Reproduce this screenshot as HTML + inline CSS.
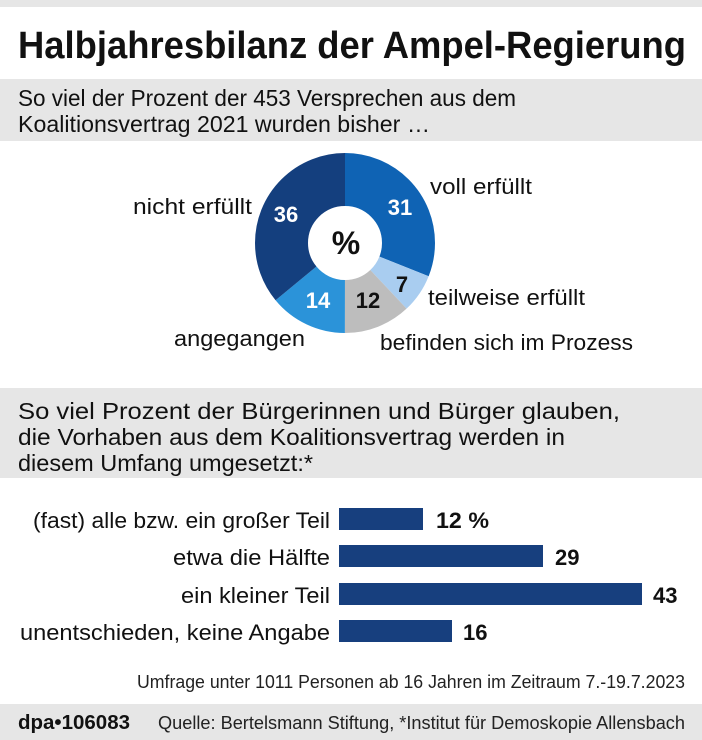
<!DOCTYPE html>
<html><head><meta charset="utf-8"><style>
html,body{margin:0;padding:0;background:#fff;}
svg{display:block;font-family:"Liberation Sans",sans-serif;}
</style></head><body>
<svg width="702" height="740" viewBox="0 0 702 740" xmlns="http://www.w3.org/2000/svg">
<rect x="0" y="0" width="702" height="7" fill="#e6e6e6"/>
<text x="18" y="58" font-size="38" font-weight="bold" fill="#111" textLength="668" lengthAdjust="spacingAndGlyphs">Halbjahresbilanz der Ampel-Regierung</text>
<rect x="0" y="79" width="702" height="62" fill="#e6e6e6"/>
<text x="18" y="106" font-size="23" fill="#111" textLength="498" lengthAdjust="spacingAndGlyphs">So viel der Prozent der 453 Versprechen aus dem</text>
<text x="18" y="132" font-size="23" fill="#111" textLength="412" lengthAdjust="spacingAndGlyphs">Koalitionsvertrag 2021 wurden bisher …</text>

<g transform="translate(345,243) rotate(-90)" fill="none" stroke-width="53">
<circle r="63.5" stroke="#0f63b4" stroke-dasharray="123.68 400" stroke-dashoffset="0"/>
<circle r="63.5" stroke="#a9cdf0" stroke-dasharray="27.93 400" stroke-dashoffset="-123.68"/>
<circle r="63.5" stroke="#bdbdbd" stroke-dasharray="47.88 400" stroke-dashoffset="-151.61"/>
<circle r="63.5" stroke="#2b93d9" stroke-dasharray="55.86 400" stroke-dashoffset="-199.49"/>
<circle r="63.5" stroke="#143f7e" stroke-dasharray="143.64 400" stroke-dashoffset="-255.35"/>
</g>
<text x="346" y="254" font-size="32" font-weight="bold" text-anchor="middle" fill="#111">%</text>
<g font-size="22" font-weight="bold" text-anchor="middle">
<text x="400" y="215" fill="#fff">31</text>
<text x="402" y="292" fill="#111">7</text>
<text x="368" y="308" fill="#111">12</text>
<text x="318" y="308" fill="#fff">14</text>
<text x="286" y="222" fill="#fff">36</text>
</g>
<g font-size="22" fill="#111">
<text x="133" y="214" textLength="119" lengthAdjust="spacingAndGlyphs">nicht erfüllt</text>
<text x="430" y="194" textLength="102" lengthAdjust="spacingAndGlyphs">voll erfüllt</text>
<text x="428" y="305" textLength="157" lengthAdjust="spacingAndGlyphs">teilweise erfüllt</text>
<text x="380" y="350" textLength="253" lengthAdjust="spacingAndGlyphs">befinden sich im Prozess</text>
<text x="174" y="346" textLength="131" lengthAdjust="spacingAndGlyphs">angegangen</text>
</g>

<rect x="0" y="388" width="702" height="90" fill="#e6e6e6"/>
<g font-size="23" fill="#111">
<text x="18" y="419" textLength="602" lengthAdjust="spacingAndGlyphs">So viel Prozent der Bürgerinnen und Bürger glauben,</text>
<text x="18" y="445" textLength="547" lengthAdjust="spacingAndGlyphs">die Vorhaben aus dem Koalitionsvertrag werden in</text>
<text x="18" y="471" textLength="295" lengthAdjust="spacingAndGlyphs">diesem Umfang umgesetzt:*</text>
</g>

<g fill="#173f7e">
<rect x="339" y="508" width="84" height="22"/>
<rect x="339" y="545" width="204" height="22"/>
<rect x="339" y="583" width="303" height="22"/>
<rect x="339" y="620" width="113" height="22"/>
</g>
<g font-size="22" fill="#111" text-anchor="end">
<text x="330" y="528" textLength="297" lengthAdjust="spacingAndGlyphs">(fast) alle bzw. ein großer Teil</text>
<text x="330" y="565" textLength="157" lengthAdjust="spacingAndGlyphs">etwa die Hälfte</text>
<text x="330" y="603" textLength="149" lengthAdjust="spacingAndGlyphs">ein kleiner Teil</text>
<text x="330" y="640" textLength="310" lengthAdjust="spacingAndGlyphs">unentschieden, keine Angabe</text>
</g>
<g font-size="22" font-weight="bold" fill="#111">
<text x="436" y="528" textLength="53" lengthAdjust="spacingAndGlyphs">12 %</text>
<text x="555" y="565">29</text>
<text x="653" y="603">43</text>
<text x="463" y="640">16</text>
</g>
<text x="137" y="688" font-size="18" fill="#222" textLength="548" lengthAdjust="spacingAndGlyphs">Umfrage unter 1011 Personen ab 16 Jahren im Zeitraum 7.-19.7.2023</text>
<rect x="0" y="704" width="702" height="36" fill="#e6e6e6"/>
<text x="18" y="729" font-size="20" font-weight="bold" fill="#111" textLength="112" lengthAdjust="spacingAndGlyphs">dpa•106083</text>
<text x="158" y="729" font-size="18" fill="#222" textLength="527" lengthAdjust="spacingAndGlyphs">Quelle: Bertelsmann Stiftung, *Institut für Demoskopie Allensbach</text>
</svg>
</body></html>
